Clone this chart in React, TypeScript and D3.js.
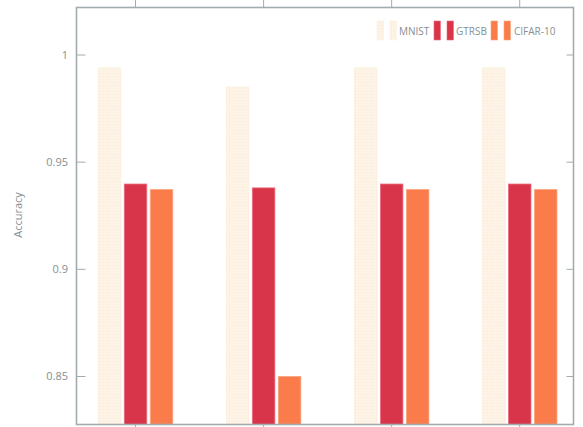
import React from "react";
import * as d3 from "d3";

const categories = ["A", "B", "C", "D"];
const seriesNames = ["MNIST", "GTRSB", "CIFAR-10"];
const mnist = [0.994, 0.985, 0.994, 0.994];
const gtrsb = [0.9398, 0.938, 0.9398, 0.9398];
const cifar = [0.9372, 0.85, 0.9372, 0.9372];
const yTicks = [0.85, 0.9, 0.95, 1];
const yTickLabels = ["0.85", "0.9", "0.95", "1"];

const colors = ["url(#dots)", "#d8344a", "#fb7c4b"];
const strokes = ["#fbeedc", "#ee6d7a", "#fda27c"];

export default function App() {
  const W = 583, H = 427;
  const left = 76.5, right = 573.5, top = 7.5, bottom = 424.5;
  const x = d3.scaleLinear().domain([-0.461, 3.42]).range([left, right]);
  const y = d3.scaleLinear().domain([0.85, 1]).range([376.5, 55]);
  const series = [mnist, gtrsb, cifar];
  const offsets = [-0.203, 0, 0.203];
  const bw = 0.176;
  const axisColor = "#a3abaf";
  const textColor = "#868f93";
  const font = "'Open Sans', sans-serif";

  return (
    <svg width={W} height={H} style={{ position: "absolute", left: 0, top: 0, background: "#fff" }}>
      <defs>
        <pattern id="dots" width="3" height="3" patternUnits="userSpaceOnUse">
          <rect width="3" height="3" fill="#fdf3e6" />
          <circle cx="1.5" cy="1.5" r="0.6" fill="#faead6" />
        </pattern>
      </defs>
      {series.map((vals, s) =>
        vals.map((v, i) => {
          const x0 = x(i + offsets[s] - bw / 2);
          const x1 = x(i + offsets[s] + bw / 2);
          return (
            <rect
              key={`${s}-${i}`}
              x={x0}
              y={y(v)}
              width={x1 - x0}
              height={bottom - y(v)}
              fill={colors[s]}
              stroke={strokes[s]}
              strokeWidth={0.8}
            />
          );
        })
      )}
      <rect x={left} y={top} width={right - left} height={bottom - top} fill="none" stroke={axisColor} strokeWidth={1.6} />
      {yTicks.map((t, i) => (
        <g key={t}>
          <line x1={left} x2={left + 9} y1={y(t)} y2={y(t)} stroke={axisColor} strokeWidth={1} />
          <line x1={right - 7} x2={right} y1={y(t)} y2={y(t)} stroke={axisColor} strokeWidth={1} />
          <text x={68} y={y(t)} dy="0.35em" textAnchor="end" fontFamily={font} fontSize={11} fill={textColor}>
            {yTickLabels[i]}
          </text>
        </g>
      ))}
      {categories.map((c, i) => (
        <g key={c}>
          <line x1={x(i)} x2={x(i)} y1={0} y2={top} stroke={axisColor} strokeWidth={1} />
          <line x1={x(i)} x2={x(i)} y1={bottom} y2={H} stroke={axisColor} strokeWidth={1} />
        </g>
      ))}
      <text
        transform={`translate(22,215) rotate(-90)`}
        textAnchor="middle"
        fontFamily={font}
        fontSize={11}
        fill={textColor}
      >
        Accuracy
      </text>
      {seriesNames.map((n, s) => {
        const starts = [377, 434, 491];
        const textX = [399, 456, 514];
        return (
          <g key={n}>
            <rect x={starts[s]} y={21} width={6.5} height={19} fill={colors[s]} stroke={strokes[s]} strokeWidth={0.6} />
            <rect x={starts[s] + 13} y={21} width={6.5} height={19} fill={colors[s]} stroke={strokes[s]} strokeWidth={0.6} />
            <text x={textX[s]} y={35} fontFamily={font} fontSize={10} fill={textColor}>
              {n}
            </text>
          </g>
        );
      })}
    </svg>
  );
}
